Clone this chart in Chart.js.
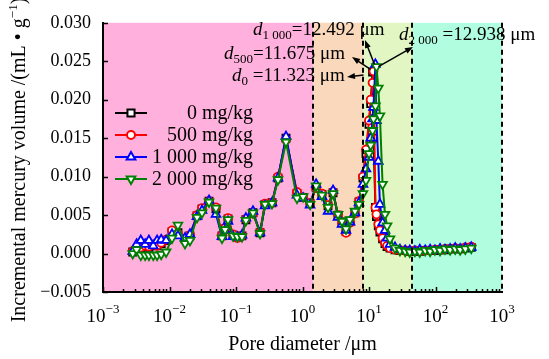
<!DOCTYPE html>
<html>
<head>
<meta charset="utf-8">
<script src="https://cdn.jsdelivr.net/npm/chart.js@4.4.1/dist/chart.umd.min.js"></script>
<style>
  body { margin: 0; background: #fff; }
  canvas { display: block; }
</style>
</head>
<body>
<canvas id="mipChart" width="549" height="359"></canvas>
<script>
// Pore diameter (um), shared by all four curves
const poreDiameter = [
  0.0028, 0.0032, 0.0037, 0.0043, 0.0049, 0.0057, 0.0065, 0.0075, 0.0089, 0.0109,
  0.0134, 0.0171, 0.0203, 0.0259, 0.0308, 0.0393, 0.0500, 0.0615, 0.0684, 0.0759,
  0.0902, 0.105, 0.123, 0.141, 0.180, 0.230, 0.273, 0.348, 0.428, 0.565,
  0.826, 1.02, 1.30, 1.60, 1.96, 2.42, 2.88, 3.42, 3.93, 4.51,
  5.18, 6.15, 7.07, 8.12, 9.01, 10.0, 10.6, 11.32, 11.68, 12.49,
  12.94, 13.8, 14.6, 16.0, 17.4, 18.7, 20.7, 24.6, 29.2, 35,
  41, 49, 58, 70, 83, 98, 117, 139, 166, 198,
  235, 281, 345
];

// Incremental mercury volume (mL/g)
const vol0 = [
  0.0002, 0.0005, 0.0007, 0.0009, 0.0008, 0.0011, 0.0010, 0.0013, 0.0017, 0.0028,
  0.0027, 0.0019, 0.0023, 0.0049, 0.0058, 0.0068, 0.0058, 0.0023, 0.0032, 0.0045,
  0.0024, 0.0021, 0.0023, 0.0044, 0.0053, 0.0027, 0.0064, 0.0066, 0.0098, 0.0150,
  0.0078, 0.0073, 0.0065, 0.0086, 0.0077, 0.0062, 0.0079, 0.0050, 0.0041, 0.0029,
  0.0042, 0.0053, 0.0067, 0.0098, 0.0130, 0.0168, 0.0195, 0.0236, 0.0150, 0.0060,
  0.0048, 0.0036, 0.0028, 0.0019, 0.0013, 0.0009, 0.0007, 0.0005, 0.0004, 0.0004,
  0.0003, 0.0003, 0.0003, 0.0004, 0.0004, 0.0004, 0.0005, 0.0005, 0.0006, 0.0006,
  0.0006, 0.0007, 0.0008
];
const vol500 = [
  0.0003, 0.0006, 0.0008, 0.0010, 0.0009, 0.0012, 0.0010, 0.0014, 0.0018, 0.0030,
  0.0026, 0.0018, 0.0024, 0.0050, 0.0059, 0.0068, 0.0060, 0.0024, 0.0033, 0.0046,
  0.0025, 0.0020, 0.0023, 0.0045, 0.0052, 0.0028, 0.0065, 0.0066, 0.0100, 0.0148,
  0.0080, 0.0073, 0.0066, 0.0085, 0.0078, 0.0063, 0.0080, 0.0050, 0.0040, 0.0027,
  0.0040, 0.0052, 0.0068, 0.0100, 0.0135, 0.0173, 0.0200, 0.0222, 0.0237, 0.0060,
  0.0051, 0.0038, 0.0030, 0.0020, 0.0014, 0.0010, 0.0007, 0.0005, 0.0004, 0.0004,
  0.0003, 0.0004, 0.0003, 0.0004, 0.0004, 0.0005, 0.0005, 0.0006, 0.0006, 0.0007,
  0.0006, 0.0008, 0.0009
];
const vol1000 = [
  0.0003, 0.0012, 0.0017, 0.0012, 0.0017, 0.0010, 0.0017, 0.0018, 0.0017, 0.0025,
  0.0023, 0.0020, 0.0025, 0.0048, 0.0056, 0.0069, 0.0051, 0.0022, 0.0030, 0.0042,
  0.0022, 0.0021, 0.0024, 0.0046, 0.0055, 0.0027, 0.0062, 0.0066, 0.0098, 0.0152,
  0.0076, 0.0072, 0.0063, 0.0090, 0.0074, 0.0055, 0.0082, 0.0047, 0.0038, 0.0030,
  0.0041, 0.0053, 0.0066, 0.0090, 0.0110, 0.0125, 0.0150, 0.0175, 0.0190, 0.0246,
  0.0173, 0.0120, 0.0064, 0.0040, 0.0030, 0.0020, 0.0012, 0.0008, 0.0005, 0.0004,
  0.0004, 0.0003, 0.0005, 0.0004, 0.0005, 0.0004, 0.0006, 0.0005, 0.0006, 0.0007,
  0.0006, 0.0007, 0.0008
];
const vol2000 = [
  0.0000, 0.0005, -0.0002, -0.0002, -0.0002, -0.0002, -0.0002, -0.0001, 0.0002, 0.0020,
  0.0037, 0.0013, 0.0017, 0.0047, 0.0053, 0.0067, 0.0059, 0.0020, 0.0031, 0.0044,
  0.0023, 0.0022, 0.0022, 0.0043, 0.0053, 0.0026, 0.0064, 0.0065, 0.0096, 0.0145,
  0.0072, 0.0074, 0.0064, 0.0088, 0.0076, 0.0060, 0.0078, 0.0051, 0.0042, 0.0032,
  0.0044, 0.0055, 0.0064, 0.0078, 0.0095, 0.0130, 0.0141, 0.0160, 0.0175, 0.0192,
  0.0243, 0.0215, 0.0179, 0.0090, 0.0051, 0.0036, 0.0019, 0.0007, 0.0004, 0.0003,
  0.0002, 0.0003, 0.0002, 0.0004, 0.0003, 0.0005, 0.0004, 0.0006, 0.0005, 0.0006,
  0.0005, 0.0006, 0.0007
];

const seriesLabels = ['0 mg/kg', '500 mg/kg', '1 000 mg/kg', '2 000 mg/kg'];
const peakLabels = [
  ['0', ' =11.323 \u03bcm'],
  ['500', '=11.675 \u03bcm'],
  ['1 000', '=12.492 \u03bcm'],
  ['2 000', ' =12.938 \u03bcm']
];
const xTickExponents = [-3, -2, -1, 0, 1, 2, 3];
const yTickValues = [-0.005, 0, 0.005, 0.010, 0.015, 0.020, 0.025, 0.030];
// pore size zones (um)
const zoneBounds = [0.001, 1.45, 8.2, 45, 1000];
const zoneColors = ['#ffb0dc', '#fad8bb', '#e2f6c3', '#b0fde0'];

const SERIF = '"Liberation Serif", "Times New Roman", serif';

const styles = [
  { color: '#000000', pointStyle: 'rect', radius: 5, rotation: 0 },
  { color: '#ff0000', pointStyle: 'circle', radius: 4, rotation: 0 },
  { color: '#0000ff', pointStyle: 'triangle', radius: 5, rotation: 0 },
  { color: '#008000', pointStyle: 'triangle', radius: 5, rotation: 180 }
];
const volumes = [vol0, vol500, vol1000, vol2000];

function peakIndex(arr) {
  let best = 0;
  arr.forEach((v, i) => { if (v > arr[best]) best = i; });
  return best;
}

function drawArrow(ctx, x0, y0, x1, y1) {
  const ang = Math.atan2(y1 - y0, x1 - x0);
  const len = 8, half = 3;
  ctx.beginPath();
  ctx.moveTo(x0, y0);
  ctx.lineTo(x1 - Math.cos(ang) * len * 0.8, y1 - Math.sin(ang) * len * 0.8);
  ctx.stroke();
  ctx.beginPath();
  ctx.moveTo(x1, y1);
  ctx.lineTo(x1 - Math.cos(ang) * len - Math.sin(ang) * half, y1 - Math.sin(ang) * len + Math.cos(ang) * half);
  ctx.lineTo(x1 - Math.cos(ang) * len + Math.sin(ang) * half, y1 - Math.sin(ang) * len - Math.cos(ang) * half);
  ctx.closePath();
  ctx.fill();
}

function drawPeakLabel(ctx, x, y, sub, rest) {
  ctx.font = 'italic 19px ' + SERIF;
  ctx.fillText('d', x, y);
  x += ctx.measureText('d').width;
  ctx.font = '13px ' + SERIF;
  ctx.fillText(sub, x, y + 4);
  x += ctx.measureText(sub).width;
  ctx.font = '19px ' + SERIF;
  ctx.fillText(rest, x, y);
}

const zonePlugin = {
  id: 'zones',
  beforeDraw(chart) {
    const { ctx, chartArea: a, scales: { x } } = chart;
    ctx.save();
    zoneColors.forEach((c, i) => {
      const x0 = x.getPixelForValue(zoneBounds[i]);
      const x1 = x.getPixelForValue(zoneBounds[i + 1]);
      ctx.fillStyle = c;
      ctx.fillRect(x0, a.top, x1 - x0, a.bottom - a.top);
    });
    ctx.restore();
  }
};

const overlayPlugin = {
  id: 'overlay',
  afterDatasetsDraw(chart) {
    const { ctx, chartArea: a, scales: { x, y } } = chart;
    ctx.save();
    ctx.fillStyle = '#000';
    ctx.strokeStyle = '#000';
    ctx.textBaseline = 'alphabetic';
    ctx.textAlign = 'left';

    // peak labels
    const labelPos = [[232, 81], [224, 59], [253, 35], [399, 40]];
    peakLabels.forEach((p, i) => drawPeakLabel(ctx, labelPos[i][0], labelPos[i][1], p[0], p[1]));

    // arrows from each peak to its label
    const heads = [[347, 77], [352, 57], [365, 40], [413, 47]];
    const tailShift = [[-9, 3], [-3, -2], [-1, 0], [2, 0]];
    ctx.lineWidth = 1.5;
    volumes.forEach((vals, i) => {
      const k = peakIndex(vals);
      const px = x.getPixelForValue(poreDiameter[k]) + tailShift[i][0];
      const py = y.getPixelForValue(vals[k]) + tailShift[i][1];
      drawArrow(ctx, px, py, heads[i][0], heads[i][1]);
    });

    // dashed zone boundaries
    ctx.lineWidth = 2;
    ctx.setLineDash([5, 4]);
    ctx.beginPath();
    zoneBounds.slice(1).forEach(b => {
      const px = Math.round(x.getPixelForValue(b));
      ctx.moveTo(px, a.top);
      ctx.lineTo(px, a.bottom);
    });
    ctx.stroke();
    ctx.setLineDash([]);

    // legend
    ctx.font = '20px ' + SERIF;
    ctx.textAlign = 'right';
    ctx.textBaseline = 'middle';
    seriesLabels.forEach((lab, i) => {
      const ly = 113 + i * 22;
      const s = styles[i];
      ctx.strokeStyle = s.color;
      ctx.lineWidth = 2;
      ctx.beginPath();
      ctx.moveTo(115, ly);
      ctx.lineTo(147, ly);
      ctx.stroke();
      ctx.fillStyle = '#fff';
      ctx.lineWidth = 2;
      Chart.helpers.drawPoint(ctx, { pointStyle: s.pointStyle, radius: s.radius, rotation: s.rotation, borderWidth: 2 }, 131, ly);
      ctx.fillStyle = '#000';
      ctx.fillText(lab, 253, ly + 1);
    });
    ctx.restore();
  },
  afterDraw(chart) {
    const { ctx, chartArea: a, scales: { x, y } } = chart;
    ctx.save();
    ctx.strokeStyle = '#000';
    ctx.lineWidth = 1.5;
    ctx.beginPath();
    yTickValues.forEach(v => {
      const py = Math.round(y.getPixelForValue(v)) + 0.5;
      ctx.moveTo(a.left, py);
      ctx.lineTo(a.left + 5, py);
    });
    for (let e = -3; e < 3; e++) {
      for (let m = 1; m < 10; m++) {
        const px = Math.round(x.getPixelForValue(m * Math.pow(10, e))) + 0.5;
        ctx.moveTo(px, a.bottom);
        ctx.lineTo(px, a.bottom - (m === 1 ? 5 : 3));
      }
    }
    ctx.stroke();

    // x tick labels 10^n
    ctx.fillStyle = '#000';
    ctx.textBaseline = 'alphabetic';
    ctx.textAlign = 'left';
    xTickExponents.forEach(e => {
      const px = x.getPixelForValue(Math.pow(10, e));
      const sup = e < 0 ? '\u2212' + (-e) : String(e);
      ctx.font = '19px ' + SERIF;
      const w1 = ctx.measureText('10').width;
      ctx.font = '13px ' + SERIF;
      const w2 = ctx.measureText(sup).width;
      const x0 = px - (w1 + w2) / 2;
      ctx.font = '19px ' + SERIF;
      ctx.fillText('10', x0, 322);
      ctx.font = '13px ' + SERIF;
      ctx.fillText(sup, x0 + w1, 313);
    });

    // x title
    ctx.font = '20px ' + SERIF;
    ctx.textAlign = 'center';
    ctx.fillText('Pore diameter /\u03bcm', (a.left + a.right) / 2, 350);

    // y title, rotated
    ctx.translate(25, 160);
    ctx.rotate(-Math.PI / 2);
    const p1 = 'Incremental mercury volume /(mL \u2022 g';
    const p2 = '\u22121';
    const p3 = ')';
    ctx.font = '20px ' + SERIF;
    const w1 = ctx.measureText(p1).width;
    const w3 = ctx.measureText(p3).width;
    ctx.font = '13px ' + SERIF;
    const w2 = ctx.measureText(p2).width;
    let sx = -(w1 + w2 + w3) / 2;
    ctx.textAlign = 'left';
    ctx.font = '20px ' + SERIF;
    ctx.fillText(p1, sx, 0);
    ctx.font = '13px ' + SERIF;
    ctx.fillText(p2, sx + w1, -8);
    ctx.font = '20px ' + SERIF;
    ctx.fillText(p3, sx + w1 + w2, 0);
    ctx.restore();
  }
};

const datasets = volumes.map((vals, i) => ({
  label: seriesLabels[i],
  data: poreDiameter.map((d, k) => ({ x: d, y: vals[k] })),
  borderColor: styles[i].color,
  backgroundColor: '#fff',
  pointBackgroundColor: '#fff',
  pointBorderColor: styles[i].color,
  pointStyle: styles[i].pointStyle,
  pointRotation: styles[i].rotation,
  pointRadius: styles[i].radius,
  pointBorderWidth: 1.8,
  borderWidth: 2,
  tension: 0,
  order: 3 - i
}));

new Chart(document.getElementById('mipChart').getContext('2d'), {
  type: 'line',
  data: { datasets: datasets },
  options: {
    responsive: false,
    animation: false,
    events: [],
    layout: { padding: { top: 14, right: 47, left: 0, bottom: 0 } },
    plugins: { legend: { display: false }, tooltip: { enabled: false } },
    scales: {
      x: {
        type: 'logarithmic',
        min: 0.001,
        max: 1000,
        grid: { display: false, drawTicks: false },
        border: { display: true, color: '#000', width: 2 },
        ticks: { display: false },
        afterFit: s => { s.height = 67; }
      },
      y: {
        type: 'linear',
        min: -0.005,
        max: 0.030,
        grid: { display: false, drawTicks: false },
        border: { display: true, color: '#000', width: 2 },
        afterBuildTicks: s => { s.ticks = yTickValues.map(v => ({ value: v })); },
        ticks: {
          padding: 12,
          color: '#000',
          font: { family: 'Liberation Serif', size: 18 },
          callback: v => (v < 0 ? '\u2212' : '') + Math.abs(v).toFixed(3)
        },
        afterFit: s => { s.width = 103; }
      }
    }
  },
  plugins: [zonePlugin, overlayPlugin]
});
</script>
</body>
</html>
